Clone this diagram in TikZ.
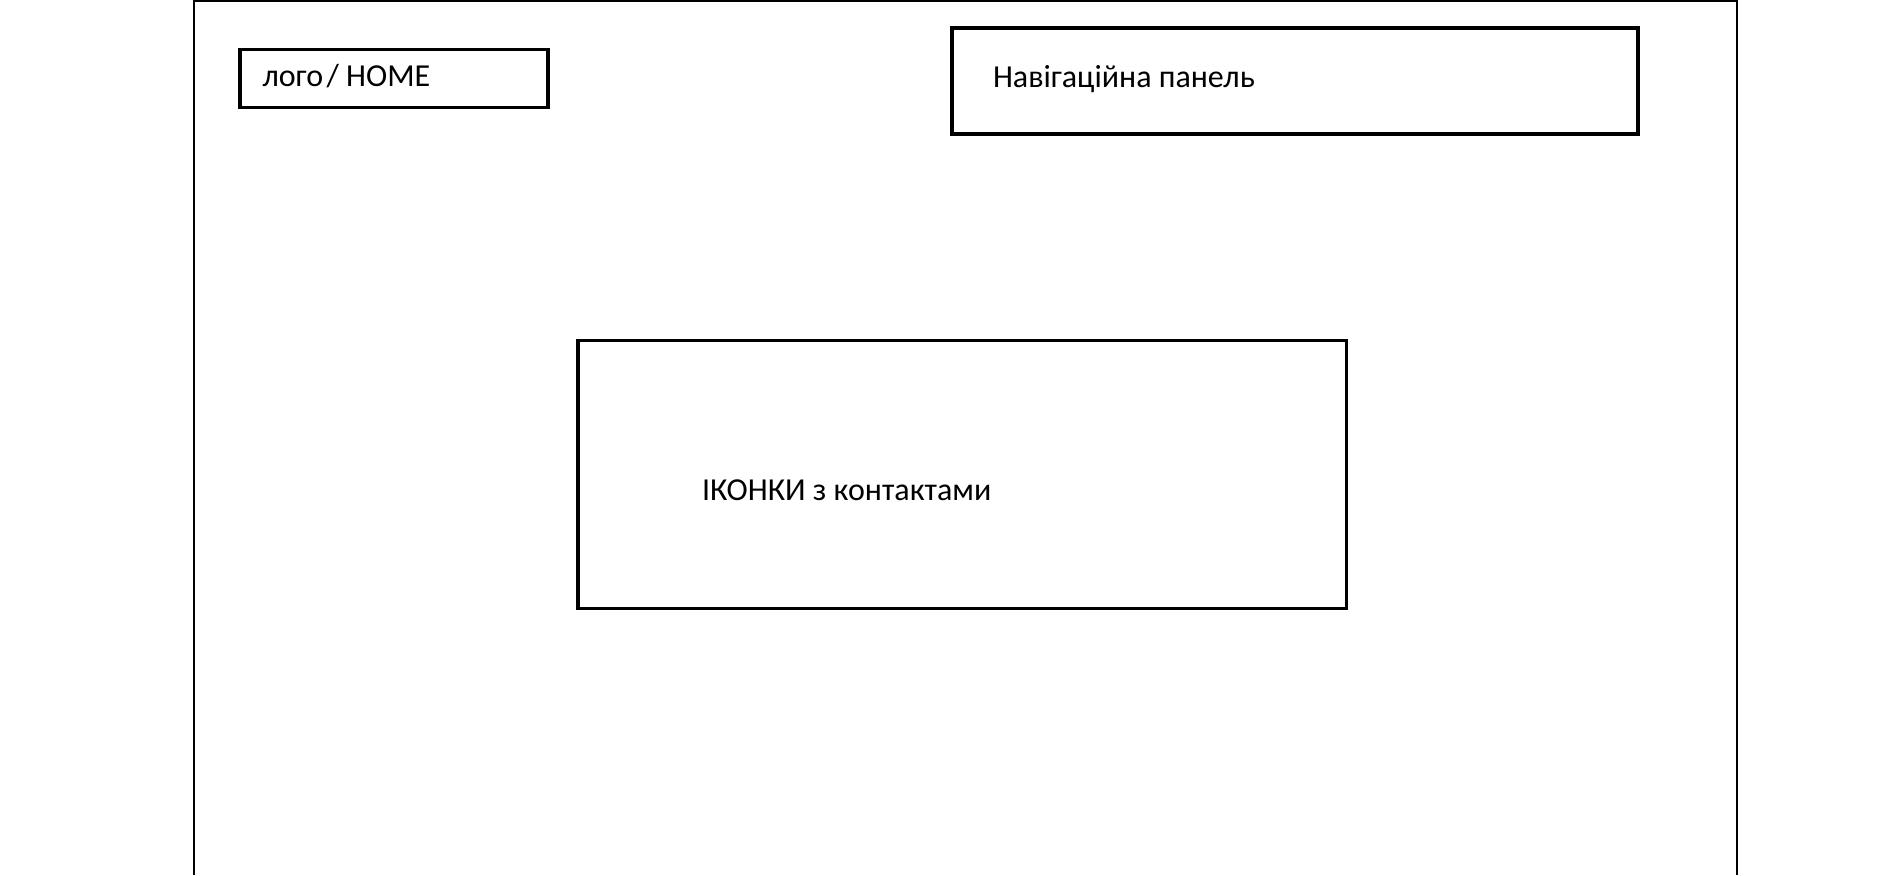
\documentclass[tikz,border=0pt]{standalone}
\usepackage{fontspec}
\setmainfont{Carlito}
\begin{document}
\begin{tikzpicture}[x=0.75pt,y=-0.75pt,
  framebox/.style={draw=black,line width=2.3pt,inner sep=0pt,outer sep=0pt,anchor=north west},
  label/.style={inner sep=0pt,outer sep=0pt,anchor=base west,font=\fontsize{24pt}{28pt}\selectfont}]
\useasboundingbox[fill=white] (0,0) rectangle (1897,875);
% outer page frame (open at the bottom)
\coordinate (fbl) at (194,875);
\coordinate (ftl) at (194,1.2);
\coordinate (ftr) at (1737,1.2);
\coordinate (fbr) at (1737,875);
\draw[line width=1.9pt] (fbl) -- (ftl) -- (ftr) -- (fbr);
% boxes
\node[framebox,minimum width=231pt,minimum height=43.5pt] (logo) at (240,49.5) {};
\node[framebox,minimum width=514.5pt,minimum height=79.5pt] (nav) at (952,28) {};
\node[framebox,minimum width=576.4pt,minimum height=201pt] (icons) at (578,340.5) {};
% texts
\node[label] (logotext) at (262.5,86) {лого\hspace{-0.12em} / HOME};
\node[label] (navtext) at (993,87) {Навігаційна панель};
\node[label] (iconstext) at (702,500) {ІКОНКИ з контактами};
\end{tikzpicture}
\end{document}
